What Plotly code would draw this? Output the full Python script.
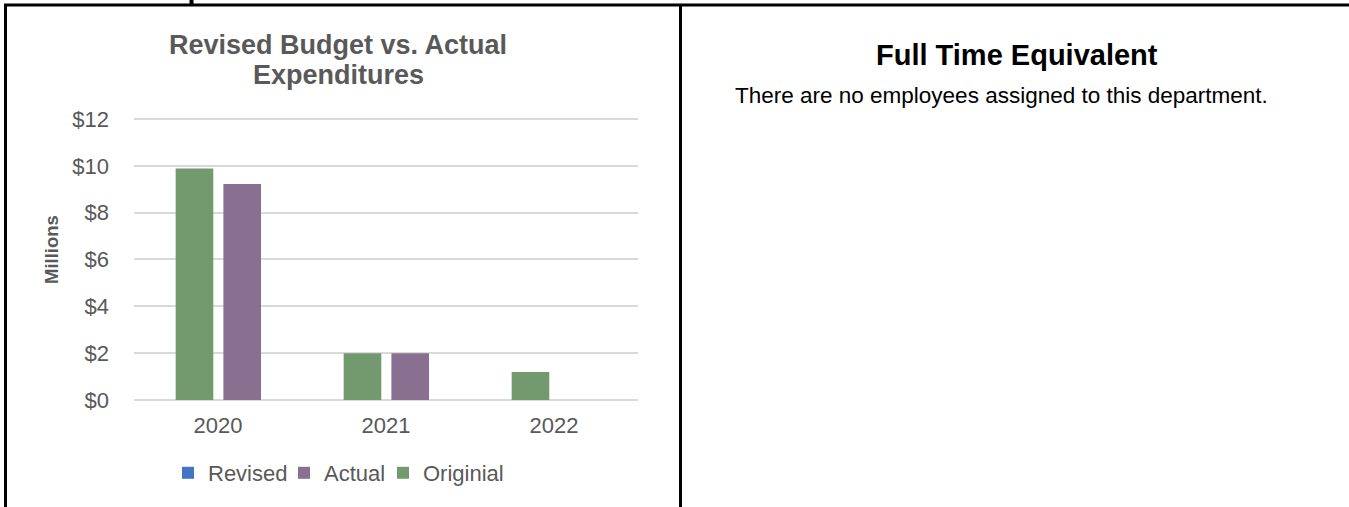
import plotly.graph_objects as go

# --- chart data (millions of dollars) ---
years = ["2020", "2021", "2022"]
revised = [0, 0, 0]
actual = [9.22, 2.0, 0]
original = [9.89, 2.0, 1.2]

y_ticks = [0, 2, 4, 6, 8, 10, 12]
y_tick_labels = ["$0", "$2", "$4", "$6", "$8", "$10", "$12"]

W, H = 1349, 507
FONT = "Arial, Liberation Sans, sans-serif"
GREY = "#595959"

# px per $1M on the value axis, used to leave a hair of headroom so the $12 gridline shows
UNIT_PX = (400 - 119) / 12
Y_MAX = 12.1


def px_x(x):
    return x / W


def px_y(y):
    return 1 - y / H


fig = go.Figure()
fig.add_trace(go.Bar(x=years, y=revised, name="Revised", marker_color="#4472C4",
                     marker_line_width=0, width=0.224, offset=-0.112, legend="legend"))
fig.add_trace(go.Bar(x=years, y=actual, name="Actual", marker_color="#8A7090",
                     marker_line_width=0, width=0.224, offset=0.032, legend="legend2"))
fig.add_trace(go.Bar(x=years, y=original, name="Originial", marker_color="#739A6E",
                     marker_line_width=0, width=0.224, offset=-0.252, legend="legend3"))

legend_style = dict(
    orientation="h",
    xanchor="left",
    y=px_y(473),
    yanchor="middle",
    font=dict(size=22, color=GREY),
    itemwidth=30,
    bgcolor="rgba(0,0,0,0)",
)

fig.update_layout(
    width=W,
    height=H,
    margin=dict(l=0, r=0, t=0, b=0, pad=0),
    paper_bgcolor="white",
    plot_bgcolor="white",
    barmode="overlay",
    font=dict(family=FONT, color=GREY, size=22),
    showlegend=True,
    legend=dict(legend_style, x=px_x(168)),
    legend2=dict(legend_style, x=px_x(284)),
    legend3=dict(legend_style, x=px_x(383)),
)

fig.update_xaxes(
    domain=[px_x(134), px_x(638)],
    type="category",
    range=[-0.5, 2.5],
    automargin=False,
    showgrid=False,
    showline=False,
    zeroline=False,
    ticks="",
    ticklabelstandoff=10,
    tickfont=dict(size=22, color=GREY),
)
fig.update_yaxes(
    domain=[px_y(400), px_y(400 - Y_MAX * UNIT_PX)],
    range=[0, Y_MAX],
    tickvals=y_ticks,
    ticktext=y_tick_labels,
    automargin=False,
    showgrid=True,
    gridcolor="#D9D9D9",
    gridwidth=1.5,
    zeroline=True,
    zerolinecolor="#D9D9D9",
    zerolinewidth=1.5,
    showline=False,
    ticks="",
    ticklabelstandoff=24,
    tickfont=dict(size=22, color=GREY),
)

# chart title (two lines) and axis title
fig.add_annotation(
    text="<b>Revised Budget vs. Actual</b>",
    xref="paper", yref="paper", x=px_x(338), y=px_y(45),
    xanchor="center", yanchor="middle", showarrow=False,
    font=dict(size=27, color=GREY, family=FONT),
)
fig.add_annotation(
    text="<b>Expenditures</b>",
    xref="paper", yref="paper", x=px_x(338), y=px_y(75),
    xanchor="center", yanchor="middle", showarrow=False,
    font=dict(size=27, color=GREY, family=FONT),
)
fig.add_annotation(
    text="<b>Millions</b>",
    xref="paper", yref="paper", x=px_x(51), y=px_y(250),
    xanchor="center", yanchor="middle", textangle=-90, showarrow=False,
    font=dict(size=18.5, color=GREY, family=FONT),
)

# right-hand panel
fig.add_annotation(
    text="<b>Full Time Equivalent</b>",
    xref="paper", yref="paper", x=px_x(1017), y=px_y(55),
    xanchor="center", yanchor="middle", showarrow=False,
    font=dict(size=29, color="black", family=FONT),
)
fig.add_annotation(
    text="There are no employees assigned to this department.",
    xref="paper", yref="paper", x=px_x(1001), y=px_y(96),
    xanchor="center", yanchor="middle", showarrow=False,
    font=dict(size=22.5, color="black", family=FONT),
)

# table borders
border = dict(color="black", width=3)
fig.add_shape(type="line", xref="paper", yref="paper",
              x0=px_x(4), x1=1, y0=px_y(5), y1=px_y(5), line=border)
fig.add_shape(type="line", xref="paper", yref="paper",
              x0=px_x(5.5), x1=px_x(5.5), y0=px_y(4), y1=0, line=border)
fig.add_shape(type="line", xref="paper", yref="paper",
              x0=px_x(680.5), x1=px_x(680.5), y0=px_y(4), y1=0, line=border)
fig.add_shape(type="line", xref="paper", yref="paper",
              x0=px_x(191.5), x1=px_x(191.5), y0=1, y1=px_y(5), line=dict(color="black", width=4))

fig.write_html(
    "out.html",
    config={"displayModeBar": False},
    post_script="document.body.style.margin = '0';",
)
